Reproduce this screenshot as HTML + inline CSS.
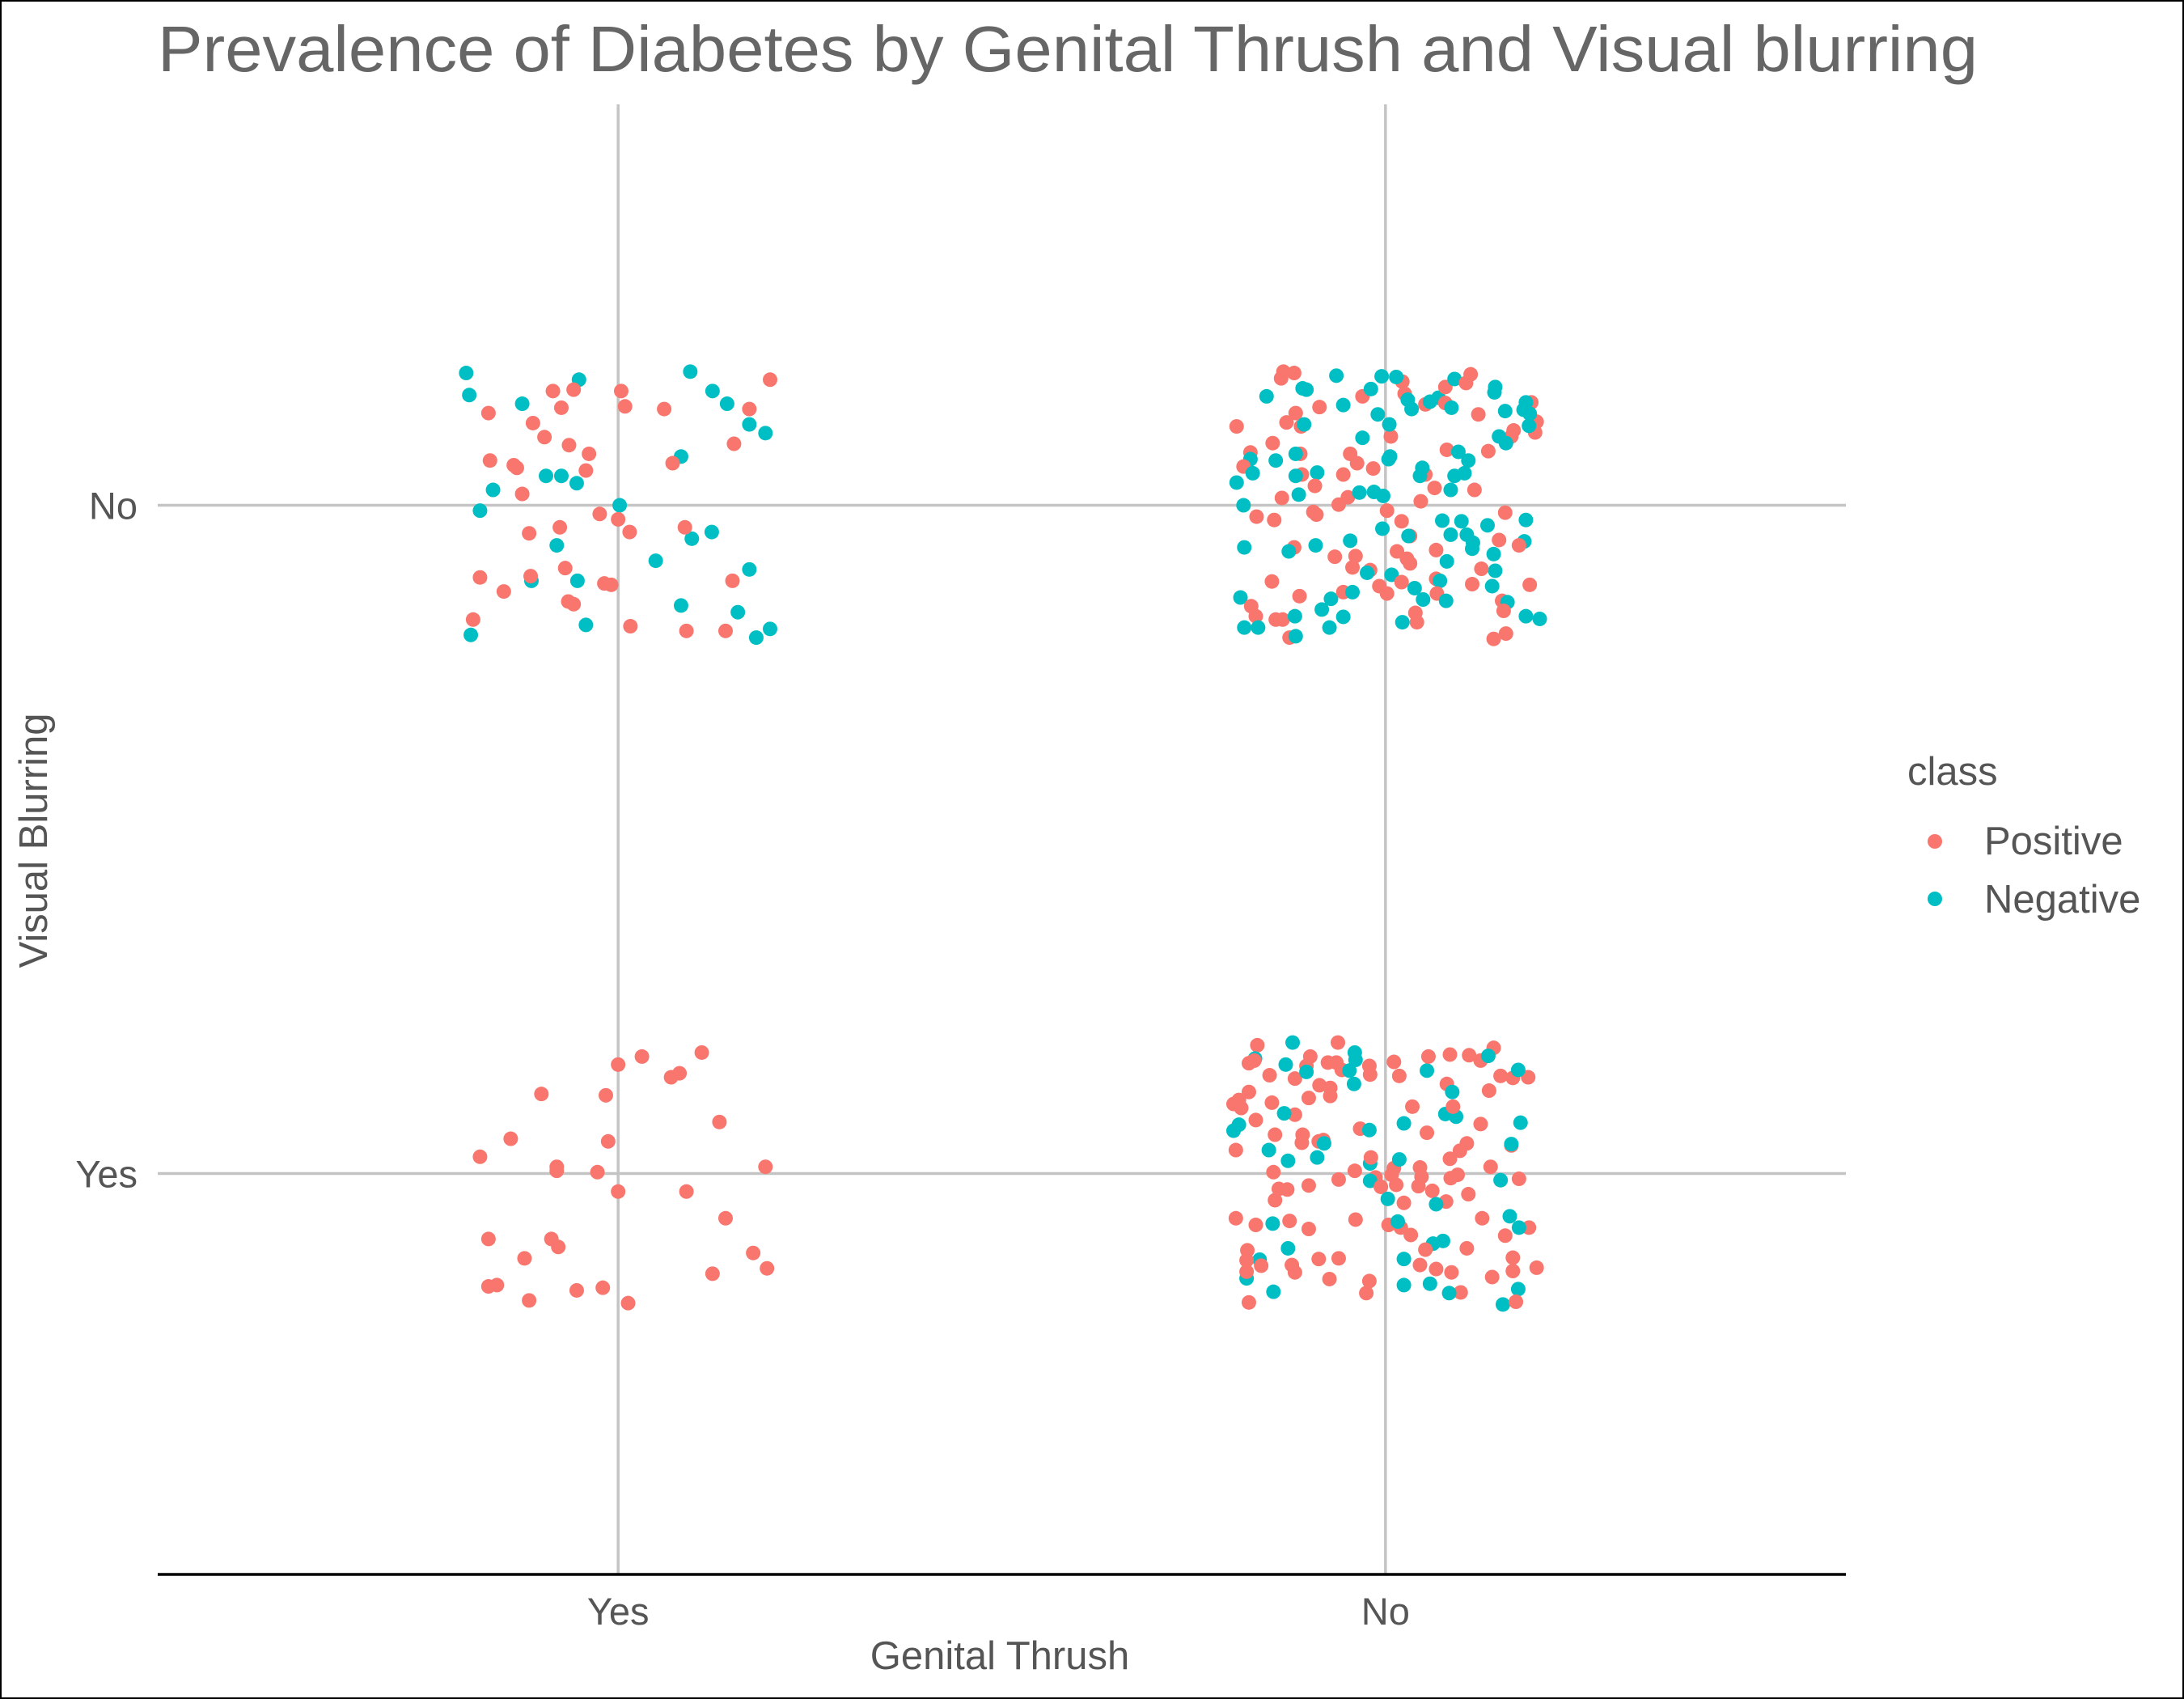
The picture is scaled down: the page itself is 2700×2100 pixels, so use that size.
<!DOCTYPE html>
<html><head><meta charset="utf-8"><style>
html,body{margin:0;padding:0;background:#fff}
svg{display:block}
text{font-family:"Liberation Sans",Arial,sans-serif}
</style></head><body>
<svg id="chart" width="2700" height="2100" viewBox="0 0 2700 2100" xmlns="http://www.w3.org/2000/svg">
<rect x="1" y="1" width="2698" height="2098" fill="#fff" stroke="#000" stroke-width="2"/>
<text x="195" y="88" font-size="80" fill="#666" textLength="2250" lengthAdjust="spacingAndGlyphs">Prevalence of Diabetes by Genital Thrush and Visual blurring</text>
<g id="grid"></g>
<g id="points"></g>
<g id="axes"></g>
<text x="1236" y="2063" font-size="49" fill="#555" text-anchor="middle">Genital Thrush</text>
<text x="0" y="0" font-size="49" fill="#555" text-anchor="middle" transform="translate(58,1039) rotate(-90)">Visual Blurring</text>
<g>
<text x="2358" y="970" font-size="49" fill="#555">class</text>
<circle cx="2392" cy="1040" r="9" fill="#F8766D"/>
<text x="2453" y="1056" font-size="49" fill="#555">Positive</text>
<circle cx="2392" cy="1111" r="9" fill="#00BFC4"/>
<text x="2453" y="1128" font-size="49" fill="#555">Negative</text>
</g>
</svg>
<script>
const xCategories = ["Yes", "No"];
const yCategories = ["Yes", "No"];
const classColors = {P: "#F8766D", N: "#00BFC4"};
// jittered points per panel: [dx, dy, class]
const ptsThrushYesBlurNo = [
[-0.198,0.198,'N'],[-0.194,0.165,'N'],[-0.051,0.188,'N'],[-0.125,0.152,'N'],[0.094,0.200,'N'],[0.123,0.171,'N'],[0.142,0.152,'N'],[0.171,0.121,'N'],[0.192,0.108,'N'],[0.082,0.073,'N'],[-0.094,0.044,'N'],[-0.074,0.044,'N'],[-0.054,0.033,'N'],[-0.163,0.023,'N'],[0.002,0.0,'N'],[-0.180,-0.008,'N'],[0.122,-0.040,'N'],[0.096,-0.050,'N'],[-0.080,-0.060,'N'],[0.049,-0.083,'N'],[-0.113,-0.113,'N'],[-0.053,-0.113,'N'],[0.171,-0.096,'N'],[0.082,-0.150,'N'],[0.156,-0.160,'N'],[-0.042,-0.179,'N'],[-0.192,-0.194,'N'],[0.198,-0.185,'N'],[0.180,-0.198,'N'],
[-0.085,0.171,'P'],[-0.058,0.173,'P'],[0.004,0.171,'P'],[0.198,0.188,'P'],[-0.169,0.138,'P'],[-0.074,0.146,'P'],[0.009,0.148,'P'],[0.060,0.144,'P'],[0.171,0.144,'P'],[-0.111,0.123,'P'],[-0.096,0.102,'P'],[-0.064,0.090,'P'],[-0.038,0.077,'P'],[0.151,0.092,'P'],[-0.167,0.067,'P'],[-0.136,0.060,'P'],[-0.132,0.056,'P'],[0.071,0.063,'P'],[-0.042,0.052,'P'],[-0.125,0.017,'P'],[-0.024,-0.013,'P'],[0.0,-0.021,'P'],[0.015,-0.040,'P'],[0.087,-0.033,'P'],[-0.116,-0.042,'P'],[-0.076,-0.033,'P'],[-0.180,-0.108,'P'],[-0.149,-0.129,'P'],[-0.069,-0.094,'P'],[-0.114,-0.106,'P'],[-0.018,-0.117,'P'],[-0.009,-0.119,'P'],[0.149,-0.113,'P'],[-0.065,-0.144,'P'],[-0.058,-0.148,'P'],[-0.189,-0.171,'P'],[0.016,-0.181,'P'],[0.089,-0.188,'P'],[0.140,-0.188,'P']
];
const ptsThrushYesBlurYes = [
[0.0,0.163,'P'],[0.031,0.175,'P'],[0.109,0.181,'P'],[0.069,0.144,'P'],[0.080,0.150,'P'],[-0.100,0.119,'P'],[-0.016,0.117,'P'],[0.132,0.077,'P'],[-0.140,0.052,'P'],[-0.013,0.048,'P'],[-0.180,0.025,'P'],[-0.080,0.010,'P'],[-0.080,0.004,'P'],[0.192,0.010,'P'],[-0.027,0.002,'P'],[0.0,-0.027,'P'],[0.089,-0.027,'P'],[0.140,-0.067,'P'],[-0.169,-0.098,'P'],[-0.087,-0.098,'P'],[-0.078,-0.110,'P'],[-0.122,-0.127,'P'],[0.176,-0.119,'P'],[0.194,-0.142,'P'],[0.123,-0.150,'P'],[-0.169,-0.169,'P'],[-0.158,-0.167,'P'],[-0.116,-0.190,'P'],[-0.054,-0.175,'P'],[-0.020,-0.171,'P'],[0.013,-0.194,'P']
];
const ptsThrushNoBlurNo = [
[-0.133,0.20,'P'],[-0.136,0.19,'P'],[-0.119,0.198,'P'],[-0.064,0.194,'N'],[-0.108,0.175,'N'],[-0.103,0.173,'N'],[-0.155,0.163,'N'],[-0.086,0.147,'P'],[-0.055,0.15,'N'],[-0.030,0.163,'P'],[-0.019,0.174,'N'],[-0.005,0.193,'N'],[0.022,0.185,'P'],[0.014,0.192,'N'],[0.025,0.167,'P'],[0.029,0.158,'N'],[0.034,0.144,'N'],[0.052,0.151,'P'],[0.058,0.155,'N'],[0.069,0.161,'N'],[0.078,0.177,'P'],[0.078,0.153,'P'],[0.086,0.146,'N'],[0.111,0.196,'P'],[0.090,0.189,'N'],[0.105,0.183,'P'],[0.143,0.177,'N'],[0.142,0.169,'N'],[0.121,0.136,'P'],[0.156,0.141,'N'],[0.190,0.154,'P'],[0.183,0.154,'N'],[0.180,0.143,'N'],[0.197,0.125,'P'],[0.188,0.137,'N'],[0.195,0.109,'P'],[0.187,0.119,'N'],[0.167,0.112,'P'],[0.164,0.103,'P'],[0.148,0.103,'N'],[0.157,0.093,'N'],[0.134,0.081,'P'],
[-0.194,0.118,'P'],[-0.117,0.138,'P'],[-0.129,0.124,'P'],[-0.110,0.118,'P'],[-0.106,0.121,'N'],[-0.010,0.136,'N'],[0.007,0.103,'P'],[0.005,0.121,'N'],[-0.030,0.101,'N'],[-0.147,0.093,'P'],[-0.176,0.079,'P'],[-0.176,0.069,'N'],[-0.185,0.058,'P'],[-0.173,0.048,'N'],[-0.194,0.034,'N'],[-0.143,0.067,'N'],[-0.111,0.077,'P'],[-0.117,0.077,'N'],[-0.109,0.046,'P'],[-0.117,0.044,'N'],[-0.089,0.049,'N'],[-0.092,0.029,'P'],[-0.113,0.016,'N'],[-0.135,0.011,'P'],[-0.185,0.0,'N'],[-0.168,-0.017,'P'],[-0.145,-0.022,'P'],[-0.094,-0.010,'P'],[-0.090,-0.014,'P'],[-0.061,0.001,'P'],[-0.049,0.012,'P'],[-0.034,0.019,'N'],[-0.015,0.020,'N'],[-0.003,0.014,'N'],[-0.046,0.077,'P'],[-0.037,0.063,'P'],[-0.055,0.046,'P'],[-0.016,0.055,'P'],[0.006,0.073,'N'],[0.004,0.069,'N'],
[0.002,-0.008,'P'],[0.021,-0.024,'P'],[-0.004,-0.035,'N'],[0.032,-0.046,'P'],[0.030,-0.046,'N'],[0.052,0.046,'P'],[0.048,0.056,'N'],[0.045,0.044,'N'],[0.064,0.026,'P'],[0.046,0.006,'P'],[0.080,0.083,'P'],[0.095,0.080,'N'],[0.108,0.067,'N'],[0.103,0.048,'N'],[0.090,0.044,'N'],[0.085,0.023,'N'],[0.116,0.023,'P'],[0.074,-0.023,'N'],[0.099,-0.024,'N'],[0.085,-0.044,'N'],[0.106,-0.044,'N'],[0.114,-0.056,'N'],[0.113,-0.065,'N'],[0.133,-0.030,'N'],[0.156,-0.011,'P'],[0.183,-0.022,'N'],[0.148,-0.052,'P'],[0.181,-0.054,'N'],[0.174,-0.060,'P'],[0.141,-0.073,'N'],[0.143,-0.098,'N'],[0.125,-0.095,'P'],[0.113,-0.118,'P'],[0.139,-0.121,'N'],[0.188,-0.119,'P'],
[0.066,-0.067,'P'],[0.080,-0.084,'N'],[0.015,-0.069,'P'],[0.028,-0.080,'P'],[0.032,-0.087,'P'],[0.008,-0.104,'N'],[0.021,-0.115,'P'],[0.038,-0.124,'N'],[0.049,-0.141,'N'],[0.066,-0.110,'P'],[0.071,-0.113,'N'],[0.067,-0.132,'P'],[0.079,-0.143,'N'],[0.039,-0.161,'P'],[0.041,-0.175,'P'],[0.022,-0.175,'N'],[-0.008,-0.121,'P'],[0.002,-0.132,'P'],[-0.020,-0.097,'P'],[-0.024,-0.101,'N'],[-0.043,-0.093,'P'],[-0.039,-0.076,'P'],[-0.046,-0.053,'N'],[-0.066,-0.077,'P'],[-0.091,-0.060,'N'],[-0.119,-0.063,'P'],[-0.126,-0.069,'N'],[-0.184,-0.063,'N'],[-0.148,-0.114,'P'],[-0.112,-0.136,'P'],[-0.189,-0.138,'N'],[-0.175,-0.151,'P'],[-0.169,-0.166,'P'],[-0.184,-0.183,'N'],[-0.166,-0.183,'N'],[-0.143,-0.171,'P'],[-0.134,-0.171,'P'],[-0.118,-0.166,'N'],[-0.125,-0.198,'P'],[-0.117,-0.196,'N'],[-0.083,-0.156,'N'],[-0.071,-0.140,'N'],[-0.055,-0.130,'P'],[-0.043,-0.130,'N'],[-0.055,-0.167,'N'],[-0.073,-0.183,'N'],[0.152,-0.143,'P'],[0.159,-0.145,'N'],[0.154,-0.158,'P'],[0.183,-0.166,'N'],[0.201,-0.170,'N'],[0.141,-0.200,'P'],[0.157,-0.192,'P']
];
const ptsThrushNoBlurYes = [
[-0.167,0.192,'P'],[-0.170,0.172,'N'],[-0.178,0.165,'P'],[-0.171,0.169,'P'],[-0.121,0.196,'N'],[-0.130,0.163,'N'],[-0.151,0.147,'P'],[-0.118,0.142,'P'],[-0.098,0.175,'P'],[-0.103,0.161,'P'],[-0.103,0.152,'N'],[-0.075,0.166,'P'],[-0.064,0.166,'P'],[-0.062,0.196,'P'],[-0.057,0.155,'P'],[-0.047,0.154,'N'],[-0.040,0.181,'N'],[-0.039,0.170,'N'],[-0.021,0.161,'P'],[-0.020,0.148,'P'],[-0.041,0.134,'N'],[-0.086,0.132,'P'],[-0.072,0.128,'P'],[-0.072,0.116,'P'],[-0.100,0.113,'P'],[-0.178,0.122,'P'],[-0.198,0.104,'P'],[-0.191,0.110,'P'],[-0.188,0.098,'P'],[-0.148,0.106,'P'],[-0.118,0.088,'P'],[-0.132,0.090,'N'],[-0.169,0.080,'P'],[-0.191,0.073,'N'],[-0.198,0.064,'N'],[-0.144,0.058,'P'],[-0.152,0.035,'N'],[-0.195,0.035,'P'],[-0.127,0.019,'N'],[-0.108,0.058,'P'],[-0.109,0.046,'P'],[-0.087,0.048,'P'],[-0.081,0.050,'P'],[-0.080,0.045,'N'],[-0.089,0.024,'N'],
[-0.146,0.002,'P'],[-0.139,-0.023,'P'],[-0.128,-0.024,'P'],[-0.144,-0.040,'P'],[-0.100,-0.018,'P'],[-0.061,-0.009,'P'],[-0.040,0.004,'P'],[-0.033,0.067,'P'],[-0.021,0.065,'N'],[-0.020,0.015,'N'],[-0.019,0.024,'P'],[-0.013,-0.006,'P'],[-0.020,-0.011,'N'],[-0.006,-0.020,'P'],[0.008,-0.002,'P'],[0.011,0.008,'P'],[0.014,-0.017,'P'],[0.018,0.021,'N'],[0.003,-0.038,'N'],[0.024,-0.044,'P'],[0.004,-0.077,'P'],[0.020,-0.081,'P'],[0.016,-0.072,'N'],[0.033,-0.092,'P'],[-0.039,-0.069,'P'],[-0.195,-0.067,'P'],[-0.169,-0.077,'P'],[-0.147,-0.075,'N'],[-0.125,-0.071,'P'],[-0.100,-0.083,'P'],[-0.127,-0.112,'N'],[-0.180,-0.115,'P'],[-0.181,-0.157,'N'],[-0.164,-0.129,'N'],[-0.162,-0.138,'P'],[-0.181,-0.130,'P'],[-0.181,-0.147,'P'],[-0.122,-0.137,'P'],[-0.118,-0.148,'P'],[-0.087,-0.128,'P'],[-0.061,-0.127,'P'],[-0.073,-0.158,'P'],[-0.146,-0.177,'N'],[-0.178,-0.193,'P'],[-0.021,-0.161,'P'],[-0.025,-0.179,'P'],
[0.011,0.167,'P'],[0.018,0.146,'P'],[0.035,0.100,'P'],[0.024,0.075,'N'],[0.054,0.061,'P'],[0.054,0.154,'N'],[0.056,0.175,'P'],[0.084,0.178,'P'],[0.109,0.177,'P'],[0.124,0.169,'P'],[0.141,0.188,'P'],[0.134,0.176,'N'],[0.080,0.134,'P'],[0.087,0.122,'N'],[0.078,0.089,'N'],[0.092,0.085,'N'],[0.088,0.100,'P'],[0.135,0.124,'P'],[0.150,0.146,'P'],[0.166,0.143,'P'],[0.186,0.144,'P'],[0.173,0.155,'N'],[0.124,0.074,'P'],[0.176,0.076,'N'],[0.164,0.042,'P'],[0.164,0.044,'N'],[0.106,0.045,'P'],[0.097,0.034,'P'],[0.084,0.022,'P'],[0.045,0.009,'P'],[0.047,-0.005,'P'],[0.043,-0.019,'P'],[0.061,-0.026,'P'],[0.079,-0.042,'P'],[0.066,-0.046,'N'],[0.085,-0.007,'P'],[0.094,-0.002,'P'],[0.108,-0.031,'P'],[0.137,0.010,'P'],[0.150,-0.010,'N'],[0.174,-0.008,'P'],[0.126,-0.067,'P'],[0.162,-0.064,'N'],[0.187,-0.081,'P'],[0.174,-0.081,'N'],[0.156,-0.093,'P'],[0.062,-0.105,'N'],[0.075,-0.101,'N'],[0.052,-0.114,'P'],[0.106,-0.112,'P'],[0.024,-0.128,'N'],[0.045,-0.137,'P'],[0.066,-0.143,'P'],[0.086,-0.148,'P'],[0.058,-0.165,'N'],[0.024,-0.167,'N'],[0.098,-0.178,'P'],[0.083,-0.179,'N'],[0.166,-0.126,'P'],[0.166,-0.146,'P'],[0.197,-0.141,'P'],[0.139,-0.155,'P'],[0.173,-0.173,'N'],[0.153,-0.196,'N'],[0.170,-0.192,'P']
];
const panels = [
  {gt: "Yes", vb: "No", pts: ptsThrushYesBlurNo},
  {gt: "Yes", vb: "Yes", pts: ptsThrushYesBlurYes},
  {gt: "No", vb: "No", pts: ptsThrushNoBlurNo},
  {gt: "No", vb: "Yes", pts: ptsThrushNoBlurYes}
];

const NS = "http://www.w3.org/2000/svg";
const PL = 195, PR = 2282, PT = 129, PB = 1946;
const DMIN = 0.4, DMAX = 2.6;
function xScale(v){ return PL + (v - DMIN) / (DMAX - DMIN) * (PR - PL); }
function yScale(v){ return PB - (v - DMIN) / (DMAX - DMIN) * (PB - PT); }
function xPos(cat){ return xCategories.indexOf(cat) + 1; }
function yPos(cat){ return yCategories.indexOf(cat) + 1; }
function mk(tag, attrs, parent){
  const e = document.createElementNS(NS, tag);
  for (const k in attrs) e.setAttribute(k, attrs[k]);
  parent.appendChild(e);
  return e;
}
const grid = document.getElementById("grid");
const axes = document.getElementById("axes");
const pg = document.getElementById("points");

xCategories.forEach(c => {
  const x = xScale(xPos(c));
  const l = mk("line", {x1: x, x2: x, y1: PT, y2: PB, stroke: "#c4c4c4", "stroke-width": 3.5}, grid);
  
  
  const t = mk("text", {x: x, y: 2008, "font-size": 47, fill: "#555", "text-anchor": "middle"}, axes);
  t.textContent = c;
  
  
});
yCategories.forEach(c => {
  const y = yScale(yPos(c));
  const l = mk("line", {x1: PL, x2: PR, y1: y, y2: y, stroke: "#c4c4c4", "stroke-width": 3.5}, grid);
  
  
  const t = mk("text", {x: 170, y: y + 17, "font-size": 47, fill: "#555", "text-anchor": "end"}, axes);
  t.textContent = c;
  
  
});
const axisLine = mk("line", {x1: PL, x2: PR, y1: PB, y2: PB, stroke: "#000", "stroke-width": 3.5}, axes);



panels.forEach(p => {
  p.pts.forEach(d => {
    const c = mk("circle", {cx: xScale(xPos(p.gt) + d[0]), cy: yScale(yPos(p.vb) + d[1]), r: 9, fill: classColors[d[2]]}, pg);
    
    
  });
});
</script>
</body></html>
